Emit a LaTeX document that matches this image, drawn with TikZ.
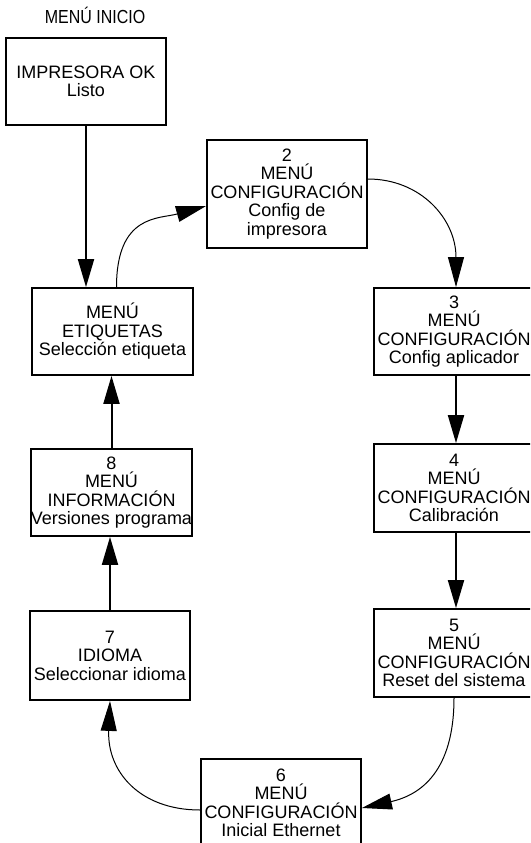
\documentclass[tikz,border=0pt]{standalone}
\usepackage{fontspec}
\setmainfont{Liberation Sans}
\usetikzlibrary{arrows.meta}
\begin{document}
\begin{tikzpicture}[x=1pt,y=-1pt,
  menubox/.style={draw,line width=1.8pt,minimum width=160pt,minimum height=87pt,inner sep=0pt,align=center,font=\fontsize{18}{18.5}\selectfont},
  thickarrow/.style={line width=2pt,-{Triangle[length=28pt,width=16pt]}},
  thinarrow/.style={line width=1pt,-{Triangle[length=30pt,width=16pt]}}]
\useasboundingbox (0,0) rectangle (530,843);
\clip (0,0) rectangle (530,843);
\node[font=\fontsize{16}{17}\selectfont] (title) at (95,15) {\scalebox{1}[1.18]{MENÚ INICIO}};
\node[menubox] (imp) at (86,81.5) {IMPRESORA OK\\Listo};
\node[menubox,minimum height=108pt] (b2) at (287,194) {2\\MENÚ\\CONFIGURACIÓN\\Config de\\impresora};
\node[menubox,minimum width=161pt] (etiq) at (112.5,331.5) {MENÚ\\ETIQUETAS\\Selección etiqueta};
\node[menubox] (b3) at (454,331.5) {3\\MENÚ\\CONFIGURACIÓN\\Config aplicador};
\node[menubox,minimum width=161pt] (b8) at (111.5,492.5) {8\\MENÚ\\INFORMACIÓN\\Versiones programa};
\node[menubox,minimum height=88pt] (b4) at (454,488) {4\\MENÚ\\CONFIGURACIÓN\\Calibración};
\node[menubox,minimum height=89pt] (b7) at (110,655.5) {7\\IDIOMA\\Seleccionar idioma};
\node[menubox,minimum height=88pt] (b5) at (454,653) {5\\MENÚ\\CONFIGURACIÓN\\Reset del sistema};
\node[menubox,minimum height=88pt] (b6) at (281,803) {6\\MENÚ\\CONFIGURACIÓN\\Inicial Ethernet};
\draw[thickarrow] (imp.south) -- (imp.south |- etiq.north);
\draw[thinarrow] ([xshift=4pt]etiq.north) .. controls +(0,-73) and +(-47,13) .. ([yshift=-12pt]b2.west);
\draw[thinarrow] ([yshift=15pt]b2.east) .. controls +(53,0) and +(0,-68) .. ([xshift=2pt]b3.north);
\draw[thickarrow] ([xshift=2pt]b3.south) -- ([xshift=2pt]b4.north);
\draw[thickarrow] ([xshift=2pt]b4.south) -- ([xshift=2pt]b5.north);
\draw[thinarrow] (b5.south) .. controls +(0,73) and +(59,-13) .. ([yshift=-5pt]b6.east);
\draw[thinarrow] ([yshift=-7pt]b6.west) .. controls +(-61,0) and +(-3,70) .. (b7.south);
\draw[thickarrow] (b7.north) -- (b7.north |- b8.south);
\draw[thickarrow] (b8.north) -- (b8.north |- etiq.south);
\end{tikzpicture}
\end{document}
